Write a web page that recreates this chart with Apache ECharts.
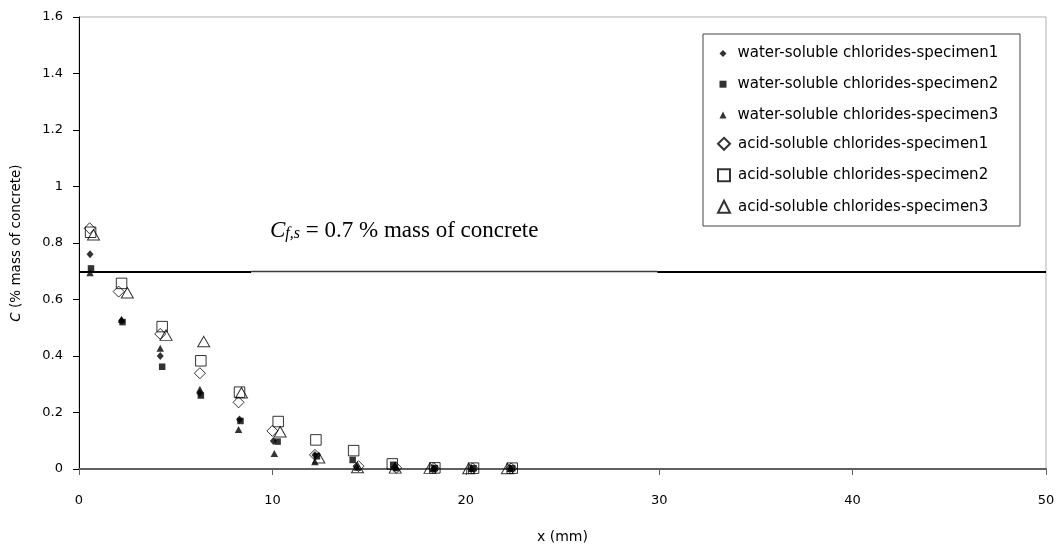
<!DOCTYPE html>
<html>
<head>
<meta charset="utf-8">
<script src="https://cdn.jsdelivr.net/npm/echarts@6/dist/echarts.min.js"></script>
<style>
  html, body { margin: 0; padding: 0; background: #fff; }
  #chart { width: 1060px; height: 550px; }
</style>
</head>
<body>
<div id="chart"></div>
<script>
// Chloride profiles: depth x (mm) against chloride content C (% mass of concrete)
const xTicks = [0, 10, 20, 30, 40, 50];
const yTicks = [0, 0.2, 0.4, 0.6, 0.8, 1, 1.2, 1.4, 1.6];

const seriesNames = [
  'water-soluble chlorides-specimen1',
  'water-soluble chlorides-specimen2',
  'water-soluble chlorides-specimen3',
  'acid-soluble chlorides-specimen1',
  'acid-soluble chlorides-specimen2',
  'acid-soluble chlorides-specimen3'
];

// water-soluble chlorides
const depthW1 = [0.57, 2.2, 4.2, 6.25, 8.3, 10.05, 12.2, 14.35, 16.35, 18.35, 20.3, 22.3];
const concW1  = [0.76, 0.525, 0.40, 0.268, 0.175, 0.099, 0.05, 0.008, 0.004, 0.003, 0.002, 0.002];
const depthW2 = [0.62, 2.25, 4.3, 6.3, 8.35, 10.27, 12.3, 14.15, 16.25, 18.4, 20.4, 22.4];
const concW2  = [0.71, 0.52, 0.362, 0.26, 0.17, 0.097, 0.045, 0.032, 0.015, 0.003, 0.003, 0.003];
const depthW3 = [0.57, 2.2, 4.2, 6.25, 8.25, 10.1, 12.2, 14.4, 16.4, 18.3, 20.3, 22.3];
const concW3  = [0.695, 0.53, 0.427, 0.282, 0.14, 0.055, 0.026, 0.006, 0.004, 0.002, 0.002, 0.002];

// acid-soluble chlorides
const depthA1 = [0.55, 2.05, 4.2, 6.25, 8.25, 10.0, 12.2, 14.45, 16.4, 18.35, 20.35, 22.35];
const concA1  = [0.852, 0.628, 0.478, 0.339, 0.236, 0.135, 0.05, 0.01, 0.004, 0.003, 0.002, 0.002];
const depthA2 = [0.6, 2.2, 4.3, 6.3, 8.3, 10.3, 12.25, 14.2, 16.2, 18.4, 20.4, 22.4];
const concA2  = [0.838, 0.657, 0.504, 0.383, 0.272, 0.168, 0.103, 0.065, 0.018, 0.004, 0.003, 0.003];
const depthA3 = [0.75, 2.5, 4.5, 6.45, 8.4, 10.4, 12.4, 14.4, 16.35, 18.15, 20.15, 22.15];
const concA3  = [0.829, 0.624, 0.474, 0.451, 0.27, 0.132, 0.04, 0.005, 0.004, 0.003, 0.002, 0.002];

// surface chloride threshold
const CFS = 0.7;

const pairs = (xs, ys) => xs.map((x, i) => [x, ys[i]]);

const filled = { color: '#000' };
const hollow = { color: 'rgba(255,255,255,0)', borderColor: '#000', borderWidth: 1 };

const series = [
  { name: seriesNames[0], data: pairs(depthW1, concW1), symbol: 'diamond', symbolSize: [7, 8], itemStyle: filled },
  { name: seriesNames[1], data: pairs(depthW2, concW2), symbol: 'rect', symbolSize: 6.5, itemStyle: filled },
  { name: seriesNames[2], data: pairs(depthW3, concW3), symbol: 'triangle', symbolSize: [7.5, 7], itemStyle: filled },
  { name: seriesNames[3], data: pairs(depthA1, concA1), symbol: 'diamond', symbolSize: [11, 11], itemStyle: hollow },
  { name: seriesNames[4], data: pairs(depthA2, concA2), symbol: 'rect', symbolSize: 10.5, itemStyle: hollow },
  { name: seriesNames[5], data: pairs(depthA3, concA3), symbol: 'triangle', symbolSize: [12, 10.5], itemStyle: hollow }
].map(s => Object.assign({ type: 'scatter', silent: true, z: 3 }, s));

// horizontal threshold line at C = CFS, lighter where it runs under the caption
series[0].markLine = {
  silent: true,
  symbol: 'none',
  label: { show: false },
  lineStyle: { color: '#000', width: 1.8, type: 'solid' },
  data: [
    [{ coord: [0, CFS] }, { coord: [8.9, CFS] }],
    [{ coord: [8.9, CFS], lineStyle: { color: '#3a3a3a', width: 1.3 } }, { coord: [29.9, CFS] }],
    [{ coord: [29.9, CFS] }, { coord: [50, CFS] }]
  ]
};

const legendText = (padLeft) => ({
  fontFamily: 'DejaVu Sans', fontSize: 15, color: '#000', lineHeight: 16,
  padding: [0, 0, 0, padLeft]
});

const chart = echarts.init(document.getElementById('chart'), null, { renderer: 'canvas' });
chart.setOption({
  animation: false,
  backgroundColor: '#fff',
  grid: {
    left: 79, right: 14, top: 17, bottom: 81,
    show: true, borderColor: '#b0b0b0', borderWidth: 1
  },
  xAxis: {
    type: 'value',
    min: xTicks[0], max: xTicks[xTicks.length - 1], interval: xTicks[1] - xTicks[0],
    name: 'x (mm)',
    nameLocation: 'middle',
    nameGap: 61,
    nameTextStyle: { fontFamily: 'DejaVu Sans', fontSize: 14, color: '#000' },
    axisLine: { show: true, onZero: false, lineStyle: { color: '#606060', width: 2 } },
    axisTick: { show: true, length: 6, lineStyle: { color: '#606060', width: 1 } },
    axisLabel: { margin: 25, fontFamily: 'DejaVu Sans', fontSize: 13, color: '#000' },
    splitLine: { show: false }
  },
  yAxis: {
    type: 'value',
    min: yTicks[0], max: yTicks[yTicks.length - 1], interval: yTicks[1] - yTicks[0],
    name: '{i|C} (% mass of concrete)',
    nameLocation: 'middle',
    nameGap: 56,
    nameTextStyle: {
      fontFamily: 'DejaVu Sans', fontSize: 13.5, color: '#000',
      rich: { i: { fontFamily: 'DejaVu Sans', fontStyle: 'italic', fontSize: 13.5, color: '#000' } }
    },
    axisLine: { show: true, onZero: false, lineStyle: { color: '#000', width: 1 } },
    axisTick: { show: true, length: 6, lineStyle: { color: '#000', width: 1 } },
    axisLabel: {
      margin: 16, fontFamily: 'DejaVu Sans', fontSize: 13, color: '#000',
      formatter: v => String(Math.round(v * 10) / 10)
    },
    splitLine: { show: false }
  },
  legend: [
    {
      data: seriesNames.slice(0, 3),
      orient: 'vertical', left: 719.5, top: 45.5,
      itemWidth: 7, itemHeight: 7, itemGap: 14.7, padding: 0,
      selectedMode: false, textStyle: legendText(6)
    },
    {
      data: seriesNames.slice(3),
      orient: 'vertical', left: 717, top: 135.8,
      itemWidth: 12, itemHeight: 12, itemGap: 15.5, padding: 0,
      selectedMode: false, textStyle: legendText(3)
    }
  ],
  graphic: [
    {
      type: 'rect', silent: true, z: 0,
      shape: { x: 703, y: 34, width: 317, height: 192 },
      style: { fill: '#fff', stroke: '#444', lineWidth: 1 }
    },
    {
      type: 'text', silent: true, z: 5,
      left: 270, top: 219,
      style: {
        text: '{c|C}{s|f,s}{t| = ' + CFS + ' % mass of concrete}',
        rich: {
          c: { fontFamily: 'Liberation Serif', fontStyle: 'italic', fontSize: 23, fill: '#000', verticalAlign: 'bottom' },
          s: { fontFamily: 'Liberation Serif', fontStyle: 'italic', fontSize: 16, fill: '#000', padding: [10, 0, 0, 0], verticalAlign: 'bottom' },
          t: { fontFamily: 'Liberation Serif', fontSize: 23, fill: '#000', verticalAlign: 'bottom' }
        }
      }
    }
  ],
  series: series
});
</script>
</body>
</html>
